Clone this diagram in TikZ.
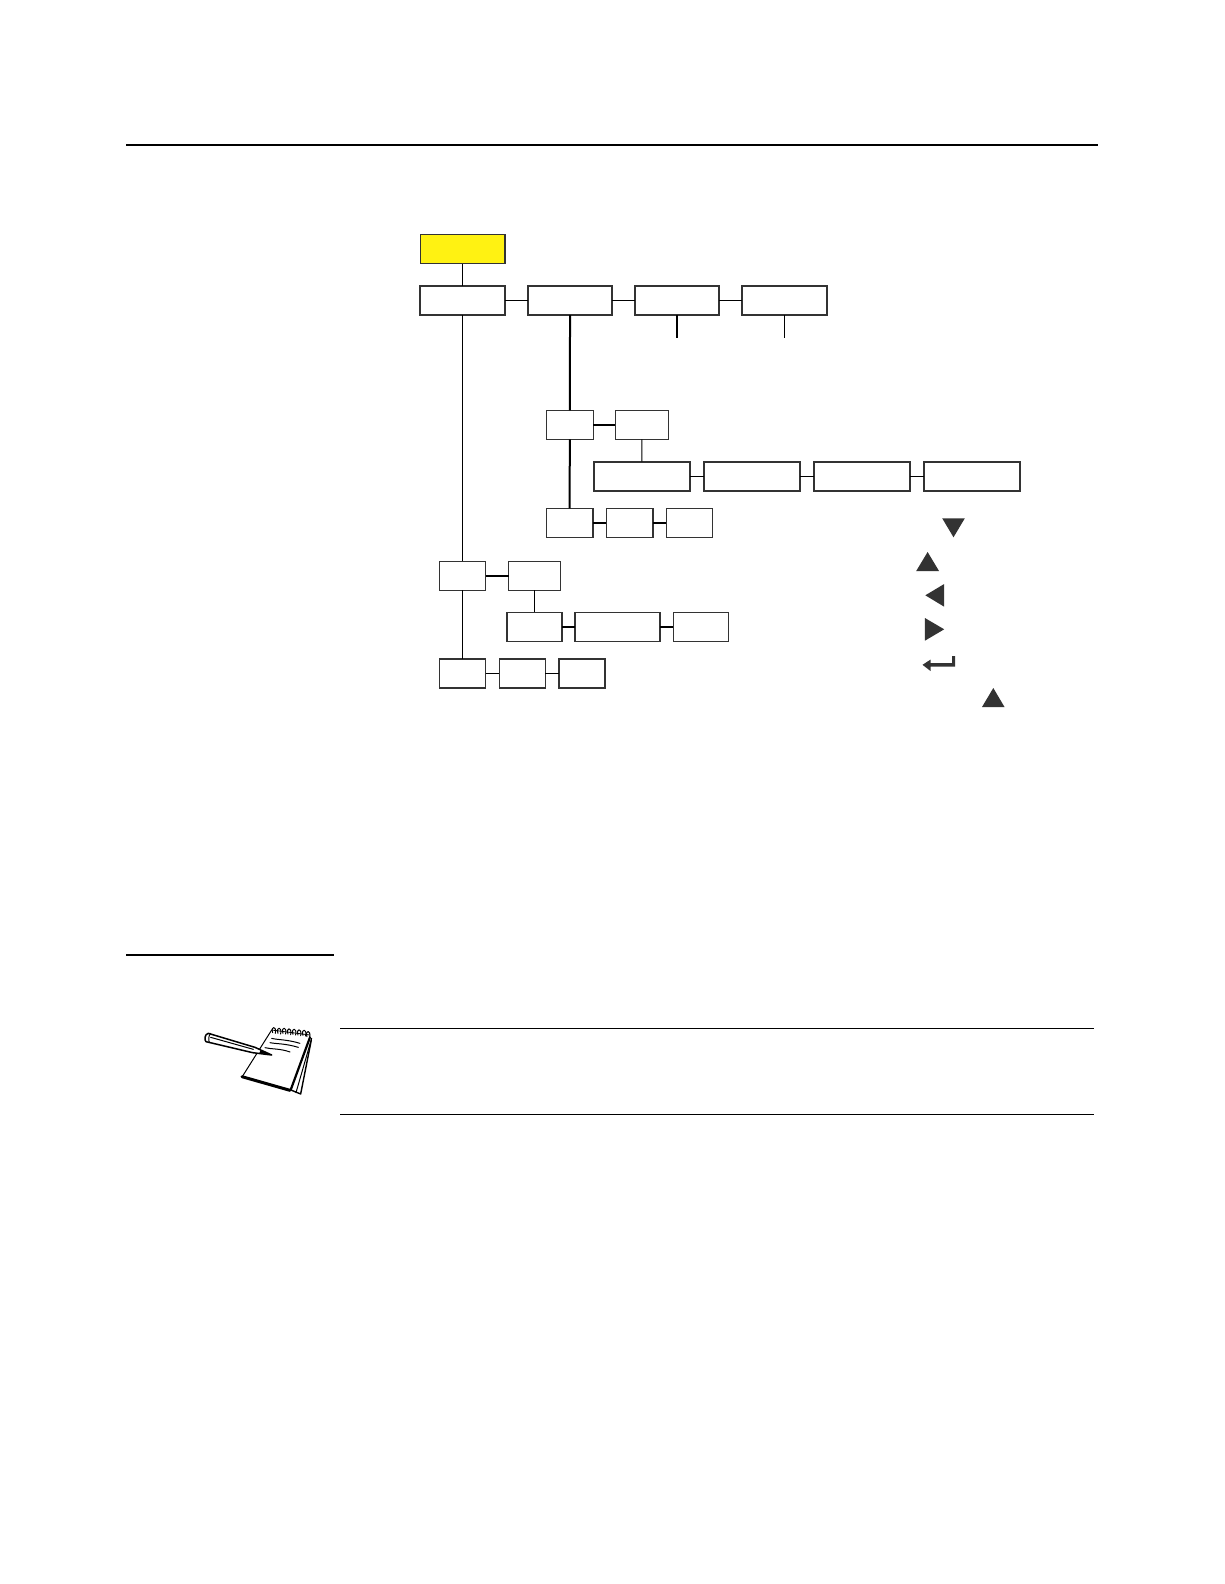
\documentclass[tikz,border=0pt]{standalone}
\usetikzlibrary{calc}
\definecolor{ink}{HTML}{333333}
\definecolor{padyellow}{HTML}{FFF212}
\newcommand{\bx}[6]{%
  \pgfmathsetmacro{\bw}{#5-#3}\pgfmathsetmacro{\bh}{#6-#4}%
  \node[#1,minimum width=\bw pt,minimum height=\bh pt] (#2) at (#3,#4) {};}
\tikzset{
  boxbase/.style={draw=ink,rectangle,anchor=north west,inner sep=0pt,outer sep=0pt,fill=white},
  boxheavy/.style={boxbase,line width=1.8pt},
  boxmid/.style={boxbase,line width=1.3pt},
  boxlight/.style={boxbase,line width=1.1pt},
  boxyellow/.style={boxbase,line width=1.4pt,fill=padyellow},
  linkthin/.style={draw=black,line width=1pt},
  linkthick/.style={draw=black,line width=2pt},
  linkmid/.style={draw=black,line width=1.6pt},
  tri/.style={fill=ink,draw=none},
  rulethick/.style={draw=black,line width=2.2pt},
  rulemid/.style={draw=black,line width=2pt},
  rulethin/.style={draw=black,line width=0.9pt}
}
\begin{document}
\begin{tikzpicture}[x=1pt,y=-1pt]
\useasboundingbox (0,0) rectangle (1224,1584);
\fill[white] (0,0) rectangle (1224,1584);
% rules
\draw[rulethick] (126,144.8) -- (1098,144.8);
\draw[rulemid] (126,955) -- (333.5,955);
\draw[rulethin] (340,1028) -- (1093.5,1028);
\draw[rulethin] (340,1114) -- (1093.5,1114);
% boxes
\bx{boxyellow}{top}{420.2}{234.3}{504.8}{263.7}
\bx{boxheavy}{a}{420.2}{285.7}{504.8}{315}
\bx{boxheavy}{b}{527.8}{285.7}{612.3}{315}
\bx{boxheavy}{c}{634.7}{285.7}{719.3}{315}
\bx{boxheavy}{d}{742}{285.7}{827}{315}
\bx{boxmid}{e}{546.3}{410.3}{593.3}{439.3}
\bx{boxmid}{f}{615.3}{410.3}{668.3}{439.3}
\bx{boxheavy}{ga}{593.6}{461.7}{690.3}{491}
\bx{boxheavy}{gb}{703.6}{461.7}{800}{491}
\bx{boxheavy}{gc}{813.6}{461.7}{910}{491}
\bx{boxheavy}{gd}{923.6}{461.7}{1020}{491}
\bx{boxlight}{ha}{546.3}{508.3}{593}{537.3}
\bx{boxlight}{hb}{606.3}{508.3}{653}{537.3}
\bx{boxlight}{hc}{666.3}{508.3}{712.8}{537.3}
\bx{boxlight}{ia}{439.5}{561.3}{485.5}{590.3}
\bx{boxlight}{ib}{508.5}{561.3}{560.5}{590.3}
\bx{boxmid}{ja}{507}{612.3}{562}{641.3}
\bx{boxmid}{jb}{575}{612.3}{660}{641.3}
\bx{boxmid}{jc}{673.2}{612.3}{728.3}{641.3}
\bx{boxheavy}{ka}{439.5}{658.7}{485.5}{688.3}
\bx{boxheavy}{kb}{499.4}{658.7}{545.4}{688.3}
\bx{boxheavy}{kc}{558.6}{658.7}{605.2}{688.3}
% free ends
\coordinate (cend) at (677,337.5);
\coordinate (dend) at (784.5,337.5);
% connectors
\draw[linkthin] (top.south) -- (a.north);
\draw[linkthin] (a.east) -- (b.west);
\draw[linkthin] (b.east) -- (c.west);
\draw[linkthin] (c.east) -- (d.west);
\draw[linkthick] (c.south) -- (cend);
\draw[linkthin] (d.south) -- (dend);
\draw[linkthick] (b.south) -- (e.north);
\draw[linkthick] (e.east) -- (f.west);
\draw[linkthick] (e.south) -- (ha.north);
\draw[linkthin] (f.south) -- (ga.north);
\draw[linkthin] (ga.east) -- (gb.west);
\draw[linkthin] (gb.east) -- (gc.west);
\draw[linkthin] (gc.east) -- (gd.west);
\draw[linkmid] (ha.east) -- (hb.west);
\draw[linkmid] (hb.east) -- (hc.west);
\draw[linkthin] (a.south) -- (ia.north);
\draw[linkthick] (ia.east) -- (ib.west);
\draw[linkthin] (ib.south) -- (ja.north);
\draw[linkmid] (ja.east) -- (jb.west);
\draw[linkmid] (jb.east) -- (jc.west);
\draw[linkthin] (ia.south) -- (ka.north);
\draw[linkthin] (ka.east) -- (kb.west);
\draw[linkthin] (kb.east) -- (kc.west);
% key symbols
\fill[tri] (942.2,518.3) -- (964.8,518.3) -- (953.5,537.3) -- cycle;
\fill[tri] (916.2,571) -- (939,571) -- (927.6,552) -- cycle;
\fill[tri] (944.2,584) -- (944.2,606.7) -- (925.3,595.3) -- cycle;
\fill[tri] (924.9,618) -- (924.9,640.7) -- (944.2,629.3) -- cycle;
\fill[tri] (982,707) -- (1004.5,707) -- (993.3,688) -- cycle;
\fill[tri] (955.2,656) -- (955.2,666.5) -- (930.5,666.5) -- (930.5,671) -- (922.5,664.8) -- (930.5,659.6) -- (930.5,663) -- (952.2,663) -- (952.2,656) -- cycle;
% notepad icon
\begin{scope}[shift={(190,1010)},x=0.3333pt,y=-0.3333pt,line join=round,line cap=round]
  \fill[white] (245,60) -- (155,200) -- (300,240) -- (360,75) -- cycle;
  % back pages
  \draw[black,line width=1pt] (365,85) -- (318,248);
  \draw[black,line width=1.4pt] (364,90) -- (332,252) -- (305,241);
  \draw[black,line width=2.2pt] (360,82) -- (302,240);
  \draw[black,line width=1pt] (245,60) -- (158,198);
  \draw[black,line width=3pt] (156,200) -- (300,241);
  \draw[black,line width=0.8pt] (245,60) -- (360,75);
  % spiral
  \foreach \sx/\sy in {248/68,264/70,279/70,294/72,309/73,324/75,339/76,351/80}
    \draw[black,line width=1pt] (\sx,\sy) .. controls (\sx-7,\sy-20) and (\sx+13,\sy-22) .. (\sx+8,\sy+2);
  % writing lines
  \draw[black,line width=1pt] (245,85) .. controls (265,90) and (290,88) .. (330,100);
  \draw[black,line width=1pt] (240,98) .. controls (260,102) and (285,100) .. (325,112);
  \draw[black,line width=1pt] (225,113) .. controls (245,118) and (270,115) .. (300,126);
  % pencil
  \fill[white] (55,70) -- (195,112) -- (245,135) -- (188,128) -- (48,95) -- cycle;
  \draw[black,line width=1.5pt] (55,70) -- (195,112) -- (245,135) -- (188,128) -- (48,95)
     .. controls (42,90) and (44,72) .. (55,70);
  \draw[black,line width=1pt] (62,70) .. controls (55,78) and (55,90) .. (58,97);
  \draw[black,line width=1pt] (62,82) -- (190,118);
  \fill[black] (245,135) -- (212,120) -- (208,129) -- cycle;
\end{scope}
\end{tikzpicture}
\end{document}
